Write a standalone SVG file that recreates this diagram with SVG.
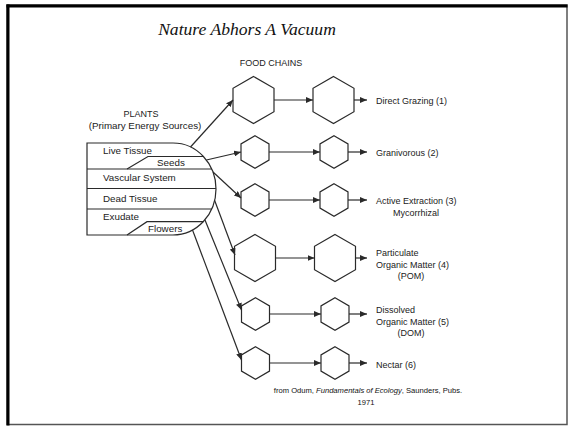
<svg xmlns="http://www.w3.org/2000/svg" width="568" height="426" viewBox="0 0 568 426">
<style>
.ln{stroke:#2a2a2a;stroke-width:1.2;fill:none}
.hx{stroke:#2a2a2a;stroke-width:1.2;fill:#fff}
.t{font-family:"Liberation Sans",Arial,sans-serif;font-size:9px;fill:#222}
.p{font-family:"Liberation Sans",Arial,sans-serif;font-size:9.8px;fill:#222}
</style>
<defs>
<marker id="ah" markerUnits="userSpaceOnUse" markerWidth="8" markerHeight="6" refX="7" refY="3" orient="auto">
<path d="M0,0 L7,3 L0,6 z" fill="#2a2a2a"/>
</marker>
<path id="hb" d="M0,-23.5 L20.5,-11.75 L20.5,11.75 L0,23.5 L-20.5,11.75 L-20.5,-11.75 Z"/>
<path id="hs" d="M0,-16.2 L14,-8.1 L14,8.1 L0,16.2 L-14,8.1 L-14,-8.1 Z"/>
</defs>
<rect width="568" height="426" fill="#fff"/>
<g id="frame">
<rect x="7" y="5" width="560" height="419.5" fill="none" stroke="#555" stroke-width="1.5"/>
<rect x="6.5" y="4.5" width="3" height="421" fill="#000"/>
<rect x="6.5" y="4.5" width="561" height="3" fill="#000"/>
</g>
<text x="247" y="35" text-anchor="middle" font-family="Liberation Serif,Times New Roman,serif" font-style="italic" font-size="17.6" fill="#111">Nature Abhors A Vacuum</text>
<text class="t" x="271" y="66" text-anchor="middle" font-size="8.5">FOOD CHAINS</text>

<g id="plants">
<text class="t" x="141" y="117" text-anchor="middle" font-size="8.5">PLANTS</text>
<text class="p" x="145" y="129" text-anchor="middle">(Primary Energy Sources)</text>
<path class="ln" d="M87,143 H173 A43,46 0 0 1 173,235 H87 Z"/>
<path class="ln" d="M127,169 L148,156.5 H203.4"/>
<line class="ln" x1="87" y1="169" x2="211.7" y2="169"/>
<line class="ln" x1="87" y1="188.5" x2="216" y2="188.5"/>
<line class="ln" x1="87" y1="209" x2="211.7" y2="209"/>
<path class="ln" d="M127,235 L147,221.7 H203.3"/>
<text class="p" x="103" y="153.5">Live Tissue</text>
<text class="p" x="157" y="166">Seeds</text>
<text class="p" x="103" y="181">Vascular System</text>
<text class="p" x="103" y="202">Dead Tissue</text>
<text class="p" x="103" y="220">Exudate</text>
<text class="p" x="148" y="232">Flowers</text>
</g>

<g id="row1">
<use href="#hb" class="hx" x="253.5" y="100"/>
<use href="#hb" class="hx" x="333.5" y="100"/>
<text class="t" x="376" y="104">Direct Grazing (1)</text>
</g>
<g id="row2">
<use href="#hs" class="hx" x="255" y="152"/>
<use href="#hs" class="hx" x="334" y="152"/>
<text class="t" x="376" y="155.5">Granivorous (2)</text>
</g>
<g id="row3">
<use href="#hs" class="hx" x="255" y="200"/>
<use href="#hs" class="hx" x="334" y="200"/>
<text class="t" x="376" y="204">Active Extraction (3)</text>
<text class="t" x="416" y="215.5" text-anchor="middle">Mycorrhizal</text>
</g>
<g id="row4">
<use href="#hb" class="hx" x="255" y="258"/>
<use href="#hb" class="hx" x="335" y="258"/>
<text class="t" x="376" y="255.5">Particulate</text>
<text class="t" x="376" y="267.5">Organic Matter (4)</text>
<text class="t" x="411" y="279" text-anchor="middle">(POM)</text>
</g>
<g id="row5">
<use href="#hs" class="hx" x="255.5" y="314"/>
<use href="#hs" class="hx" x="335" y="314"/>
<text class="t" x="376" y="313">Dissolved</text>
<text class="t" x="376" y="324.5">Organic Matter (5)</text>
<text class="t" x="411" y="336" text-anchor="middle">(DOM)</text>
</g>
<g id="row6">
<use href="#hs" class="hx" x="255.5" y="363"/>
<use href="#hs" class="hx" x="335" y="363"/>
<text class="t" x="376" y="367.5">Nectar (6)</text>
</g>

<g id="connectors" class="ln" marker-end="url(#ah)">
<line x1="190.5" y1="147" x2="233" y2="100"/>
<line x1="206.4" y1="160" x2="241" y2="152"/>
<line x1="213" y1="172" x2="241" y2="198"/>
<line x1="214.5" y1="200" x2="235" y2="255"/>
<line x1="205" y1="220" x2="241.5" y2="310"/>
<line x1="192.5" y1="230" x2="241.5" y2="360"/>
<line x1="274" y1="100" x2="313" y2="100"/>
<line x1="354" y1="100" x2="367" y2="100"/>
<line x1="269" y1="152" x2="320" y2="152"/>
<line x1="348" y1="152" x2="367" y2="152"/>
<line x1="269" y1="200" x2="320" y2="200"/>
<line x1="348" y1="200" x2="367" y2="200"/>
<line x1="275.5" y1="258" x2="314.5" y2="258"/>
<line x1="355.5" y1="258" x2="367" y2="258"/>
<line x1="269.5" y1="314" x2="321" y2="314"/>
<line x1="349" y1="314" x2="367" y2="314"/>
<line x1="269.5" y1="363" x2="321" y2="363"/>
<line x1="349" y1="363" x2="367" y2="363"/>
</g>

<text x="368" y="393" text-anchor="middle" font-family="Liberation Sans,Arial,sans-serif" font-size="7.6" fill="#111">from Odum, <tspan font-style="italic">Fundamentals of  Ecology</tspan>, Saunders, Pubs.</text>
<text x="366" y="404.5" text-anchor="middle" font-family="Liberation Sans,Arial,sans-serif" font-size="7.6" fill="#111">1971</text>
</svg>
